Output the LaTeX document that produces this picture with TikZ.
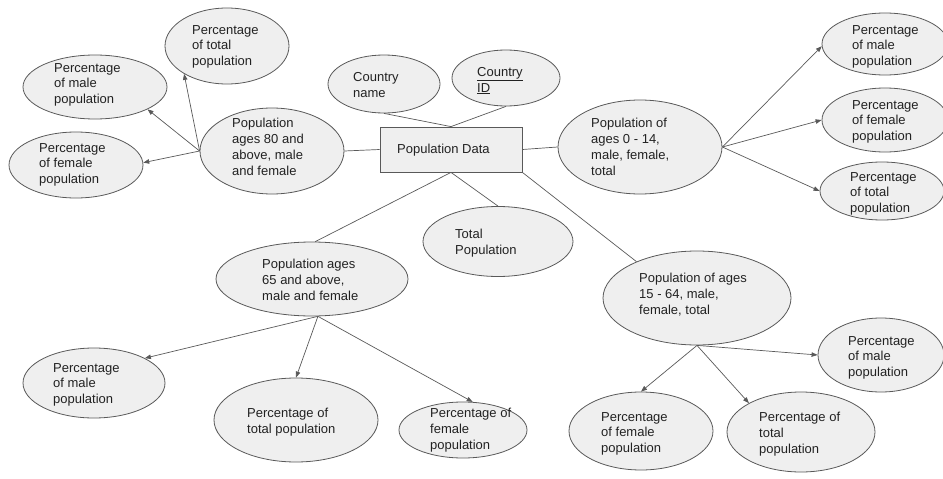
\documentclass[tikz,border=0pt]{standalone}
\usepackage{fontspec}
\setmainfont{Liberation Sans}
\usetikzlibrary{shapes.geometric,arrows.meta}
\definecolor{bubble}{HTML}{EFEFEF}
\definecolor{edge}{HTML}{595959}
\definecolor{ink}{HTML}{222222}
\tikzset{
  attr/.style args={#1/#2}{ellipse, draw=edge, fill=bubble, line width=0.8pt,
    inner sep=0pt, minimum width=#1pt, minimum height=#2pt},
  entity/.style={rectangle, draw=edge, fill=bubble, line width=0.8pt, inner sep=0pt,
    minimum width=142pt, minimum height=45pt},
  lbl/.style={anchor=north west, inner sep=0pt, align=left, text=ink,
    font=\fontsize{13}{15.8}\selectfont},
  link/.style={draw=edge, line width=0.7pt},
  arr/.style={link, -{Triangle[length=6pt,width=4.5pt]}},
}
\begin{document}
\begin{tikzpicture}[x=1pt,y=-1pt]
\useasboundingbox (0,0) rectangle (943,479);

% entity
\node[entity] (rect) at (451,149.5) {};

% attributes of the entity
\node[attr=112/58] (cname) at (384,84) {};
\node[attr=108/56] (cid) at (506,78) {};
\node[attr=150/70] (totpop) at (498,241.5) {};
\node[attr=144/86] (p80) at (272,151) {};
\node[attr=164/94] (p014) at (640,147) {};
\node[attr=192/74] (p65) at (312,279) {};
\node[attr=188/94] (p1564) at (697,298) {};

% percentages, ages 80+
\node[attr=124/76] (p80tot) at (227,46) {};
\node[attr=144/64] (p80male) at (95,87) {};
\node[attr=134/66] (p80fem) at (76,165) {};

% percentages, ages 0-14
\node[attr=126/62] (r014male) at (885,44) {};
\node[attr=126/64] (r014fem) at (885,120) {};
\node[attr=124/58] (r014tot) at (882,191) {};

% percentages, ages 65+
\node[attr=142/70] (p65male) at (94,383) {};
\node[attr=164/84] (p65tot) at (296,420) {};
\node[attr=128/56] (p65fem) at (463,430) {};

% percentages, ages 15-64
\node[attr=126/74] (p1564male) at (881,355) {};
\node[attr=144/78] (p1564fem) at (641,431) {};
\node[attr=148/80] (p1564tot) at (801,432) {};

% plain links
\draw[link] (rect.north) -- (cname.south);
\draw[link] (rect.north) -- (cid.south);
\draw[link] (rect.west) -- (p80.east);
\draw[link] (rect.east) -- (p014.west);
\draw[link] (rect.south) -- (p65.85);
\draw[link] (rect.south) -- (totpop.north);
\draw[link] (rect.south east) -- (p1564.149);

% arrows
\draw[arr] (p80.west) -- (p80male.-23);
\draw[arr] (p80.west) -- (p80fem.2);
\draw[arr] (p80.west) -- (p80tot.213);
\draw[arr] (p014.east) -- (r014male.182);
\draw[arr] (p014.east) -- (r014fem.180);
\draw[arr] (p014.east) -- (r014tot.180);
\draw[arr] (p65.-81) -- (p65male.26);
\draw[arr] (p65.-81) -- (p65tot.90);
\draw[arr] (p65.-81) -- (p65fem.71);
\draw[arr] (p1564.south) -- (p1564male.180);
\draw[arr] (p1564.south) -- (p1564fem.90);
\draw[arr] (p1564.south) -- (p1564tot.151);

% labels
\node[lbl] (t1) at (192,25) {Percentage\\of total\\population};
\node[lbl] (t2) at (54,63) {Percentage\\of male\\population};
\node[lbl] (t3) at (39,143) {Percentage\\of female\\population};
\node[lbl] (t4) at (232,118) {Population\\ages 80 and\\above, male\\and female};
\node[lbl] (t5) at (353,72) {Country\\name};
\node[lbl] (t6) at (477,67) {\underline{Country}\\\underline{ID}};
\node[lbl] (t7) at (397,144) {Population Data};
\node[lbl] (t8) at (591,118) {Population of\\ages 0 - 14,\\male, female,\\total};
\node[lbl] (t9) at (852,25) {Percentage\\of male\\population};
\node[lbl] (t10) at (852,100) {Percentage\\of female\\population};
\node[lbl] (t11) at (850,172) {Percentage\\of total\\population};
\node[lbl] (t12) at (455,229) {Total\\Population};
\node[lbl] (t13) at (262,259) {Population ages\\65 and above,\\male and female};
\node[lbl] (t14) at (53,363) {Percentage\\of male\\population};
\node[lbl] (t15) at (247,408) {Percentage of\\total population};
\node[lbl] (t16) at (430,408) {Percentage of\\female\\population};
\node[lbl] (t17) at (639,273) {Population of ages\\15 - 64, male,\\female, total};
\node[lbl] (t18) at (848,336) {Percentage\\of male\\population};
\node[lbl] (t19) at (601,412) {Percentage\\of female\\population};
\node[lbl] (t20) at (759,412) {Percentage of\\total\\population};
\end{tikzpicture}
\end{document}
